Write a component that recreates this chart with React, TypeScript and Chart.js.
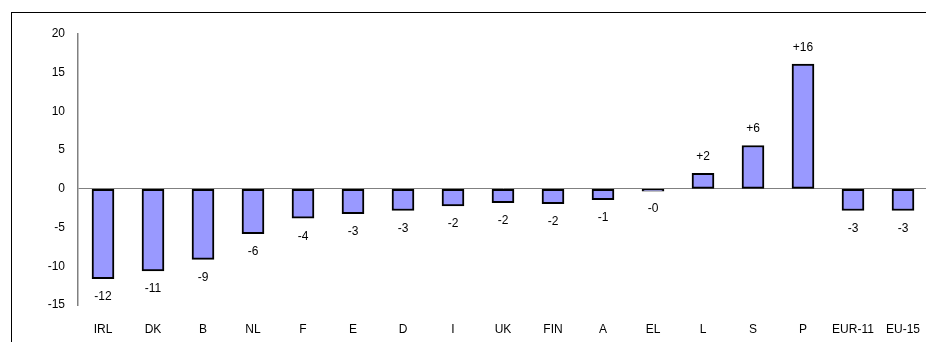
import React, { useEffect, useRef } from "react";
import { Chart, registerables } from "chart.js";

Chart.register(...registerables);

const categories = ["IRL", "DK", "B", "NL", "F", "E", "D", "I", "UK", "FIN", "A", "EL", "L", "S", "P", "EUR-11", "EU-15"];
const values = [-11.6, -10.6, -9.1, -5.8, -3.8, -3.2, -2.8, -2.2, -1.8, -1.9, -1.4, -0.3, 2.0, 5.6, 16.1, -2.8, -2.8];
const yTicksMin = -15;
const yTicksMax = 20;
const yStep = 5;

const FONT = '"Liberation Sans", Arial, sans-serif';

const labelPlugin = {
  id: "barValueLabels",
  afterDatasetsDraw(chart: any) {
    const ctx = chart.ctx;
    const meta = chart.getDatasetMeta(0);
    ctx.save();
    ctx.font = `12px ${FONT}`;
    ctx.fillStyle = "#000";
    ctx.textAlign = "center";
    ctx.textBaseline = "middle";
    meta.data.forEach((bar: any, i: number) => {
      const v = values[i];
      const txt = v < 0 ? "-" + Math.round(-v) : "+" + Math.round(v);
      const y = v < 0 ? bar.y + 18 : bar.y - 17;
      ctx.fillText(txt, bar.x, y);
    });
    ctx.restore();
  },
};

export default function App() {
  const ref = useRef<HTMLCanvasElement>(null);
  useEffect(() => {
    if (!ref.current) return;
    const chart = new Chart(ref.current, {
      type: "bar",
      data: {
        labels: categories,
        datasets: [
          {
            data: values,
            backgroundColor: "#9999FF",
            borderColor: "#000",
            borderWidth: 2,
            borderSkipped: false,
            barThickness: 22,
          },
        ],
      },
      options: {
        responsive: false,
        animation: false,
        devicePixelRatio: 1,
        layout: { padding: { top: 34, right: 12, left: 0, bottom: 0 } },
        plugins: { legend: { display: false }, tooltip: { enabled: false } },
        scales: {
          x: {
            grid: { display: false, drawTicks: false },
            border: { display: false },
            ticks: { color: "#000", font: { family: FONT, size: 12 }, padding: 17, maxRotation: 0, autoSkip: false },
            afterFit: (s: any) => {
              s.height = 37;
            },
          },
          y: {
            min: yTicksMin,
            max: yTicksMax,
            ticks: { stepSize: yStep, color: "#000", font: { family: FONT, size: 12 }, padding: 13 },
            grid: {
              drawTicks: false,
              color: (c: any) => (c.tick && c.tick.value === 0 ? "#808080" : "transparent"),
              lineWidth: 1,
            },
            border: { display: true, color: "#808080", width: 1.5 },
            afterFit: (s: any) => {
              s.width = 78;
            },
          },
        },
      },
      plugins: [labelPlugin],
    });
    return () => chart.destroy();
  }, []);

  return (
    <div style={{ position: "fixed", left: 0, top: 0, width: 926, height: 342, overflow: "hidden", background: "#fff" }}>
      <div
        style={{
          position: "absolute",
          left: 11,
          top: 12,
          width: 960,
          height: 400,
          borderTop: "1px solid #000",
          borderLeft: "1px solid #000",
        }}
      />
      <canvas ref={ref} width={940} height={342} style={{ position: "absolute", left: 0, top: 0 }} />
    </div>
  );
}
